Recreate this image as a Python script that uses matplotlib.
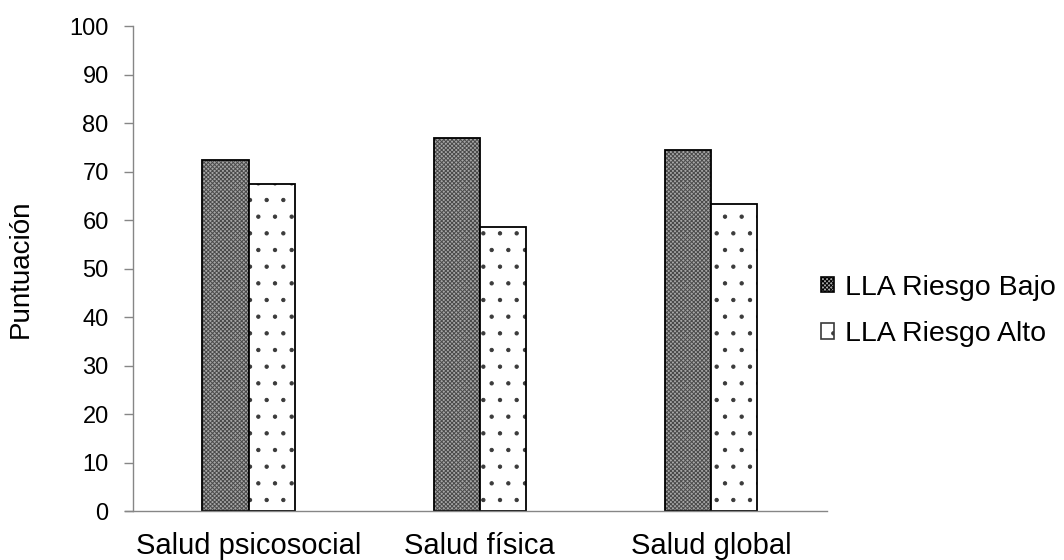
import numpy as np
import matplotlib
matplotlib.use('Agg')
import matplotlib.pyplot as plt
from matplotlib.patches import Patch

# datos
categorias = ['Salud psicosocial', 'Salud física', 'Salud global']
riesgo_bajo = [72.4, 77.0, 74.5]
riesgo_alto = [67.5, 58.6, 63.3]
series = ['LLA Riesgo Bajo', 'LLA Riesgo Alto']
yticks = list(range(0, 101, 10))

plt.rcParams['font.family'] = ['Liberation Sans', 'DejaVu Sans']
plt.rcParams['hatch.linewidth'] = 0.7

fig = plt.figure(figsize=(10.64, 5.6), dpi=100)
ax = fig.add_axes([0.125, 0.0875, 0.652, 0.866])

x = np.arange(len(categorias))
w = 0.2

# relleno con trama + borde negro por separado
ax.bar(x - w / 2, riesgo_bajo, w, color='#a6a6a6', edgecolor='#4a4a4a',
       hatch='xxxxxxxx', linewidth=0)
ax.bar(x - w / 2, riesgo_bajo, w, fill=False, edgecolor='black', linewidth=1.3)
ax.bar(x + w / 2, riesgo_alto, w, color='white', edgecolor='#3a3a3a',
       hatch='.', linewidth=0)
ax.bar(x + w / 2, riesgo_alto, w, fill=False, edgecolor='black', linewidth=1.3)

ax.set_xlim(-0.5, 2.5)
ax.set_ylim(0, 100)
ax.set_yticks(yticks)
ax.set_xticks(x)
ax.set_xticklabels(categorias, fontsize=21)
ax.tick_params(axis='x', length=0, pad=15)
ax.tick_params(axis='y', labelsize=17, length=6.5, width=1, color='#868686', pad=11)

for s in ['top', 'right']:
    ax.spines[s].set_visible(False)
for s in ['left', 'bottom']:
    ax.spines[s].set_color('#868686')
    ax.spines[s].set_linewidth(1.0)
ax.spines['bottom'].set_bounds(-0.535, 2.5)

ax.set_ylabel('Puntuación', fontsize=20)
ax.yaxis.set_label_coords(-0.143, 0.5)

handles = [
    Patch(facecolor='#a6a6a6', edgecolor='#4a4a4a', hatch='xxxxxxxx', linewidth=0),
    Patch(facecolor='white', edgecolor='#3a3a3a', hatch='.', linewidth=0),
]
leg = fig.legend(handles, series, loc='center left', bbox_to_anchor=(0.7716, 0.445),
                 frameon=False, fontsize=20.5, handlelength=0.45, handleheight=0.45,
                 handletextpad=0.4, labelspacing=0.72, borderpad=0, borderaxespad=0)
for p in leg.get_patches():
    p.set_linewidth(1.2)
leg.get_patches()[0].set_edgecolor('black')

fig.savefig('out.png', dpi=100)
